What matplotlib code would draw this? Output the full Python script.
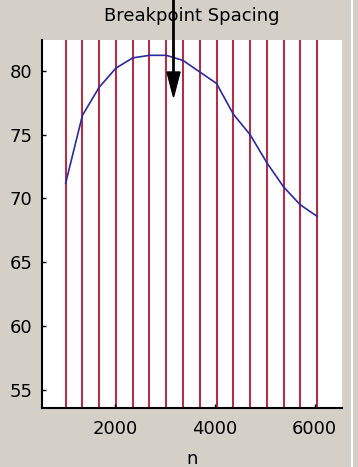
import matplotlib
matplotlib.use("Agg")
import matplotlib.pyplot as plt
from matplotlib.lines import Line2D

# breakpoints (vertical red lines) and fitted curve values at them
breakpoints = [1000, 1337, 1673, 2010, 2347, 2683, 3020, 3357,
               3693, 4030, 4367, 4703, 5040, 5377, 5713, 6050]
curve = [71.2, 76.5, 78.7, 80.2, 81.0, 81.2, 81.2, 80.8,
         79.9, 79.0, 76.6, 75.0, 72.8, 70.9, 69.5, 68.6]
x_ticks = [2000, 4000, 6000]
y_ticks = [55, 60, 65, 70, 75, 80]

bg = '#d4d0c8'
plt.rcParams['font.family'] = ['DejaVu Sans']

fig = plt.figure(figsize=(3.58, 4.67), dpi=100, facecolor=bg)
ax = fig.add_axes([42/358, 59/467, 300/358, 368/467])
ax.set_facecolor('white')

for b in breakpoints:
    ax.axvline(b, color='#b0304a', lw=1.5, zorder=1)
ax.plot(breakpoints, curve, color='#2a2aa0', lw=1.2, zorder=2)

ax.set_xlim(525, 6550)
ax.set_ylim(53.6, 82.4)
ax.set_xticks(x_ticks)
ax.set_yticks(y_ticks)
ax.tick_params(direction='in', length=3, width=1, labelsize=13, colors='black')
ax.tick_params(axis='y', pad=7)
ax.tick_params(axis='x', pad=9)
for s in ['top', 'right']:
    ax.spines[s].set_visible(False)
for s in ['left', 'bottom']:
    ax.spines[s].set_linewidth(1.5)
ax.set_title('Breakpoint Spacing', fontsize=13, pad=14)
ax.set_xlabel('n', fontsize=13, labelpad=8)

# drag arrow from the top edge
fig.add_artist(Line2D([173/358, 173/358], [1.0, (467-75)/467],
                      color='black', lw=2, transform=fig.transFigure))
fig.patches.append(plt.Polygon([[167/358, (467-72)/467], [180/358, (467-72)/467],
                                [173.5/358, (467-97)/467]], closed=True,
                               color='black', transform=fig.transFigure))

# window border on the right
fig.add_artist(Line2D([352/358, 352/358], [0, 1], color='white', lw=1.5,
                      transform=fig.transFigure))

fig.savefig('out.png', dpi=100, facecolor=bg)
